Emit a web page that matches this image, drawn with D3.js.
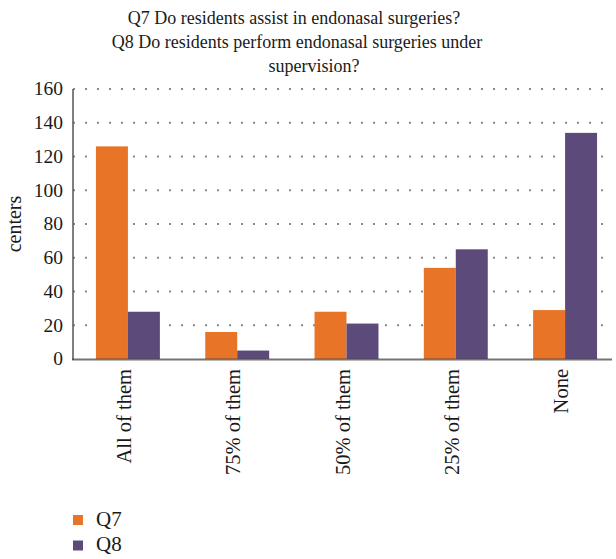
<!DOCTYPE html>
<html><head><meta charset="utf-8">
<script src="https://cdn.jsdelivr.net/npm/d3@7"></script>
<style>body{margin:0;background:#fff}svg{display:block}text{font-family:"Liberation Serif","DejaVu Serif",serif;fill:#1a1a1a}</style>
</head><body><svg id="c" width="616" height="559"></svg>
<script>
const categories = ["All of them","75% of them","50% of them","25% of them","None"];
const seriesNames = ["Q7","Q8"];
const q7 = [126,16,28,54,29];
const q8 = [28,5,21,65,134];
const yTicks = [0,20,40,60,80,100,120,140,160];
const titleLines = ["Q7 Do residents assist in endonasal surgeries?","Q8 Do residents perform endonasal surgeries under","supervision?"];
const colors = ["#E87427","#5C4A7B"];

(function(){
const svg = d3.select("#c");
const mLeft = 73, mRight = 620, mTop = 89, mBottom = 359;
const x = d3.scaleBand().domain(categories).range([mLeft, mRight]).paddingInner(0.415).paddingOuter(0.21);
const xs = d3.scaleBand().domain(seriesNames).range([0, x.bandwidth()]);
const y = d3.scaleLinear().domain([0,160]).range([mBottom, mTop]);

// grid
svg.append("g").selectAll("line").data(yTicks.filter(d=>d>0)).join("line")
  .attr("x1", mLeft).attr("x2", 610).attr("y1", d=>y(d)).attr("y2", d=>y(d))
  .attr("stroke", "#8a8a8a").attr("stroke-width", 2).attr("stroke-dasharray", "2,10");

// bars
const series = [q7, q8];
series.forEach((vals, si) => {
  svg.append("g").selectAll("rect").data(categories).join("rect")
    .attr("x", c => x(c) + xs(seriesNames[si]))
    .attr("width", xs.bandwidth())
    .attr("y", (c,i) => y(vals[i]))
    .attr("height", (c,i) => mBottom - y(vals[i]))
    .attr("fill", colors[si]);
});

// axes lines
svg.append("line").attr("x1", mLeft).attr("x2", mLeft).attr("y1", mTop).attr("y2", mBottom+1)
  .attr("stroke", "#555").attr("stroke-width", 1.5);
svg.append("line").attr("x1", mLeft-1).attr("x2", 612).attr("y1", mBottom+0.5).attr("y2", mBottom+0.5)
  .attr("stroke", "rgba(70,70,70,0.75)").attr("stroke-width", 2);

// y tick labels
svg.append("g").selectAll("text").data(yTicks).join("text")
  .attr("x", 63).attr("y", d=>y(d)).attr("dy", "0.33em")
  .attr("text-anchor", "end").attr("font-size", 19.5).text(d=>d);

// y label
svg.append("text").attr("transform", "translate(21,224) rotate(-90)")
  .attr("text-anchor", "middle").attr("font-size", 20).text("centers");

// x labels
svg.append("g").selectAll("text").data(categories).join("text")
  .attr("transform", c => `translate(${x(c)+x.bandwidth()/2+3},369) rotate(-90)`)
  .attr("text-anchor", "end").attr("font-size", 20.5).text(c=>c);

// title
const titleX = [294, 297, 314];
svg.append("g").selectAll("text").data(titleLines).join("text")
  .attr("x", (d,i)=>titleX[i]).attr("y", (d,i)=>24 + i*24)
  .attr("text-anchor", "middle").attr("font-size", 18).text(d=>d);

// legend
const lg = svg.append("g").selectAll("g").data(seriesNames).join("g")
  .attr("transform", (d,i)=>`translate(73,${515 + i*25.5})`);
lg.append("rect").attr("width", 10).attr("height", 10).attr("fill", (d,i)=>colors[i]);
lg.append("text").attr("x", 23).attr("y", 10.5).attr("font-size", 21).text(d=>d);
})();
</script></body></html>
